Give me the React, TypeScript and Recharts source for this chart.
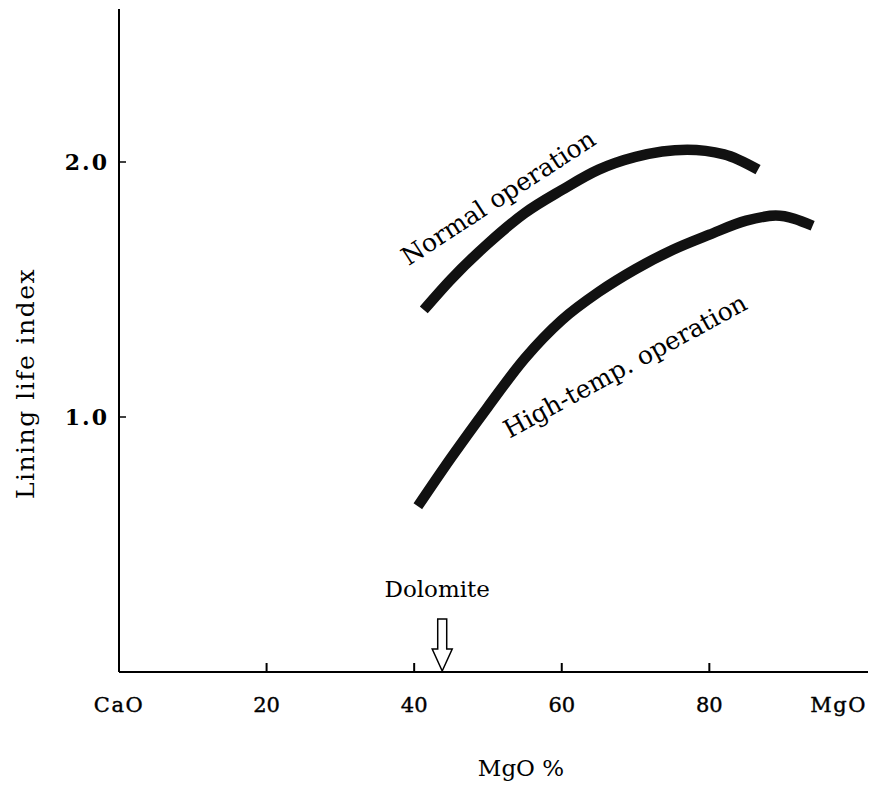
import { LineChart, Line, XAxis, YAxis, ReferenceDot } from 'recharts'

// MgO content (%) and lining life index
const normalMgO = [41.3, 45, 50, 55, 60, 65, 70, 77, 82, 86.6]
const normalLife = [1.42, 1.54, 1.68, 1.8, 1.89, 1.97, 2.02, 2.048, 2.03, 1.97]

const highTempMgO = [40.5, 45, 50, 55, 60, 65, 70, 75, 80, 85, 89, 94]
const highTempLife = [0.65, 0.84, 1.04, 1.23, 1.38, 1.49, 1.58, 1.655, 1.715, 1.77, 1.79, 1.75]

const xTicks = [0, 20, 40, 60, 80, 100]
const xTickLabels = ['CaO', '20', '40', '60', '80', 'MgO']
const yTicks = [1, 2]
const yTickLabels = ['1.0', '2.0']

const dolomiteMgO = 43.8

const serif = '"DejaVu Serif", "Liberation Serif", serif'

const normalData = normalMgO.map((x, i) => ({ x, y: normalLife[i] }))
const highTempData = highTempMgO.map((x, i) => ({ x, y: highTempLife[i] }))

function XTick(props: any) {
  const { x, y, payload } = props
  const i = xTicks.indexOf(payload.value)
  const label = xTickLabels[i] ?? String(payload.value)
  const inner = i > 0 && i < xTicks.length - 1
  const last = i === xTicks.length - 1
  return (
    <g>
      {inner && <line x1={x} x2={x} y1={y} y2={y - 9} stroke="#000" strokeWidth={2} />}
      <text
        x={last ? x + 10 : x}
        y={y + 33}
        textAnchor={last ? 'end' : 'middle'}
        dominantBaseline="central"
        fontFamily={serif}
        fontSize={21}
        letterSpacing={inner ? 0 : 1.5}
        stroke="#000"
        strokeWidth={0.4}
        fill="#000"
      >
        {label}
      </text>
    </g>
  )
}

function YTick(props: any) {
  const { x, y, payload } = props
  const label = yTickLabels[yTicks.indexOf(payload.value)] ?? String(payload.value)
  return (
    <g>
      <line x1={x} x2={x + 7} y1={y} y2={y} stroke="#000" strokeWidth={1.5} />
      <text
        x={x - 10}
        y={y}
        textAnchor="end"
        dominantBaseline="central"
        fontFamily={serif}
        fontWeight="bold"
        fontSize={22}
        letterSpacing={2}
        fill="#000"
      >
        {label}
      </text>
    </g>
  )
}

function Dolomite(props: any) {
  const { cx, cy } = props
  const arrow = `M${cx - 4.5},${cy - 53} L${cx + 4.5},${cy - 53} L${cx + 4.5},${cy - 23} L${cx + 10},${cy - 23} L${cx},${cy - 1} L${cx - 10},${cy - 23} L${cx - 4.5},${cy - 23} Z`
  return (
    <g>
      <path d={arrow} fill="#fff" stroke="#000" strokeWidth={1.5} />
      <text
        x={cx - 5}
        y={cy - 83}
        textAnchor="middle"
        dominantBaseline="central"
        fontFamily={serif}
        fontSize={23}
        fill="#000"
      >
        Dolomite
      </text>
    </g>
  )
}

function CurveLabel(text: string, angle: number) {
  return (props: any) => (
    <text
      x={props.cx}
      y={props.cy}
      transform={`rotate(${angle}, ${props.cx}, ${props.cy})`}
      textAnchor="middle"
      dominantBaseline="central"
      fontFamily={serif}
      fontSize={25}
      fill="#000"
    >
      {text}
    </text>
  )
}

export default function App() {
  return (
    <div style={{ position: 'absolute', left: 0, top: 0, background: '#fff' }}>
      <LineChart width={870} height={786} margin={{ top: 9, right: 2, bottom: 0, left: 0 }}>
        <XAxis
          type="number"
          dataKey="x"
          domain={[0, 101.5]}
          ticks={xTicks}
          height={114}
          tickSize={0}
          tickMargin={0}
          tickLine={false}
          axisLine={{ stroke: '#000', strokeWidth: 2 }}
          tick={<XTick />}
          interval={0}
          allowDataOverflow
          label={{
            content: (p: any) => (
              <text
                x={p.viewBox.x + 402}
                y={p.viewBox.y + 96}
                textAnchor="middle"
                dominantBaseline="central"
                fontFamily={serif}
                fontSize={23}
                fill="#000"
              >
                MgO %
              </text>
            ),
          }}
        />
        <YAxis
          type="number"
          domain={[0, 2.6]}
          ticks={yTicks}
          width={119}
          tickSize={0}
          tickMargin={0}
          tickLine={false}
          axisLine={{ stroke: '#000', strokeWidth: 2 }}
          tick={<YTick />}
          interval={0}
          allowDataOverflow
          label={{
            content: (p: any) => {
              const cx = p.viewBox.x + 25
              const cy = p.viewBox.y + p.viewBox.height / 2 + 43
              return (
                <text
                  x={cx}
                  y={cy}
                  transform={`rotate(-90, ${cx}, ${cy})`}
                  textAnchor="middle"
                  dominantBaseline="central"
                  fontFamily={serif}
                  fontSize={25}
                  letterSpacing={1.5}
                  fill="#000"
                >
                  Lining life index
                </text>
              )
            },
          }}
        />
        <Line
          data={normalData}
          dataKey="y"
          type="monotone"
          stroke="#111"
          strokeWidth={10.5}
          dot={false}
          isAnimationActive={false}
        />
        <Line
          data={highTempData}
          dataKey="y"
          type="monotone"
          stroke="#111"
          strokeWidth={10.5}
          dot={false}
          isAnimationActive={false}
        />
        <ReferenceDot x={51.4} y={1.86} r={0} shape={CurveLabel('Normal operation', -33)} />
        <ReferenceDot x={68.6} y={1.2} r={0} shape={CurveLabel('High-temp. operation', -28.6)} />
        <ReferenceDot x={dolomiteMgO} y={0} r={0} shape={<Dolomite />} />
      </LineChart>
    </div>
  )
}
